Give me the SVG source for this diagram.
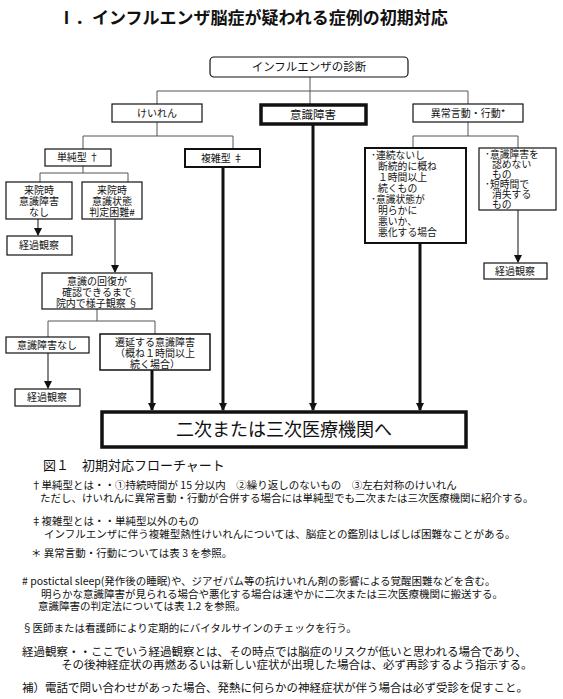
<svg xmlns="http://www.w3.org/2000/svg" width="563" height="699" viewBox="0 0 563 699">
<style>
text{font-family:"Noto Sans CJK JP","Noto Sans CJK SC",sans-serif;fill:#111}
.n{font-size:10px;text-anchor:middle}
.l{font-size:9.8px}
.box{fill:#fff;stroke:#111;stroke-width:1.2}
.b2{fill:#fff;stroke:#111;stroke-width:2}
.b3{fill:#fff;stroke:#111;stroke-width:3.5}
.c{stroke:#555;stroke-width:1;fill:none}
.a{stroke:#111;stroke-width:1;fill:none}
.t{stroke:#111;stroke-width:3;fill:none}
.f{font-size:10.5px}
.g{font-size:11.5px}
</style>
<defs>
<marker id="ah2" markerWidth="8" markerHeight="8" refX="7" refY="4" orient="auto" markerUnits="userSpaceOnUse" viewBox="0 0 8 8"><path d="M0,0 L8,4 L0,8 Z" fill="#111"/></marker>
</defs>
<rect width="563" height="699" fill="#fff"/>
<text x="58" y="24" style="font-size:17px;font-weight:bold">Ⅰ．インフルエンザ脳症が疑われる症例の初期対応</text>

<g id="connectors">
<path class="c" d="M310,77 V104 M157,91 H468 M157,91 V104 M468,91 V104"/>
<path class="c" d="M157,122 V136 M83,136 H233 M83,136 V149 M233,136 V149"/>
<path class="c" d="M83,166 V173 M40,173 H128 M40,173 V182 M128,173 V182"/>
<path class="a" d="M38,219 V235" marker-end="url(#ah2)"/>
<path class="a" d="M115,219 V272" marker-end="url(#ah2)"/>
<path class="c" d="M97,309 V321 M48,321 H155 M48,321 V337 M155,321 V334"/>
<path class="a" d="M48,353 V388" marker-end="url(#ah2)"/>
<path class="c" d="M468,122 V136 M413,136 H518 M413,136 V148 M518,136 V148"/>
<path class="a" d="M518,210 V262" marker-end="url(#ah2)"/>
<path class="t" d="M152,370 V410" marker-end="url(#ah2)"/>
<path class="t" d="M223,167 V410" marker-end="url(#ah2)"/>
<path class="t" d="M313,124 V410" marker-end="url(#ah2)"/>
<path class="t" d="M420,243 V410" marker-end="url(#ah2)"/>
</g>

<g id="diag"><rect class="box" x="210" y="57" width="198" height="20" rx="4"/><text class="n" x="309" y="71" style="font-size:11.5px">インフルエンザの診断</text></g>
<g id="keiren"><rect class="box" x="112" y="104" width="90" height="18"/><text class="n" x="157" y="117">けいれん</text></g>
<g id="ishiki"><rect class="b3" x="261" y="105" width="105" height="19"/><text class="n" x="313" y="119" style="font-size:11.5px">意識障害</text></g>
<g id="ijou"><rect class="box" x="413" y="104" width="110" height="18"/><text class="n" x="468" y="117">異常言動・行動*</text></g>
<g id="tanjun"><rect class="box" x="45" y="149" width="66" height="17"/><text class="n" x="78" y="161">単純型 †</text></g>
<g id="fukuzatsu"><rect class="b2" x="185" y="149" width="75" height="18"/><text class="n" x="222" y="162">複雑型 ‡</text></g>
<g id="nashi"><rect class="box" x="6" y="182" width="66" height="37"/><text class="n" x="39" y="194">来院時</text><text class="n" x="39" y="205">意識障害</text><text class="n" x="39" y="216">なし</text></g>
<g id="konnan"><rect class="box" x="82" y="182" width="60" height="37"/><text class="n" x="112" y="194">来院時</text><text class="n" x="112" y="205">意識状態</text><text class="n" x="112" y="216">判定困難#</text></g>
<g id="keika1"><rect class="box" x="7" y="236" width="65" height="19"/><text class="n" x="39" y="249">経過観察</text></g>
<g id="kaifuku"><rect class="box" x="42" y="273" width="110" height="36"/><text class="n" x="97" y="285">意識の回復が</text><text class="n" x="97" y="296">確認できるまで</text><text class="n" x="97" y="307">院内で様子観察 §</text></g>
<g id="nashi2"><rect class="box" x="6" y="337" width="83" height="16"/><text class="n" x="47" y="349">意識障害なし</text></g>
<g id="keika2"><rect class="box" x="15" y="389" width="65" height="17"/><text class="n" x="47" y="401">経過観察</text></g>
<g id="sen-en"><rect class="box" x="100" y="334" width="110" height="36" style="stroke-width:1.5"/><text class="n" x="155" y="346">遷延する意識障害</text><text class="n" x="155" y="357">（概ね１時間以上</text><text class="n" x="155" y="368">続く場合）</text></g>
<g id="renzoku"><rect class="b2" x="365" y="148" width="101" height="95"/>
<text class="l" x="371" y="159">･連続ないし</text><text class="l" x="378" y="170">断続的に概ね</text><text class="l" x="378" y="181">１時間以上</text><text class="l" x="378" y="192">続くもの</text><text class="l" x="371" y="203">･意識状態が</text><text class="l" x="378" y="214">明らかに</text><text class="l" x="378" y="225">悪いか、</text><text class="l" x="378" y="236">悪化する場合</text></g>
<g id="mitomenai"><rect class="box" x="479" y="148" width="77" height="62"/>
<text class="l" x="485" y="158">･意識障害を</text><text class="l" x="492" y="168">認めない</text><text class="l" x="492" y="178">もの</text><text class="l" x="485" y="188">･短時間で</text><text class="l" x="492" y="198">消失する</text><text class="l" x="492" y="208">もの</text></g>
<g id="keika3"><rect class="box" x="484" y="263" width="63" height="16"/><text class="n" x="515" y="275">経過観察</text></g>
<g id="iryou"><rect class="b3" x="102" y="412" width="364" height="35"/><text class="n" x="284" y="436" style="font-size:18px">二次または三次医療機関へ</text></g>

<text x="43" y="470" style="font-size:13px">図１　初期対応フローチャート</text>
<text class="f" x="31" y="489">†単純型とは・・①持続時間が 15 分以内　②繰り返しのないもの　③左右対称のけいれん</text>
<text class="f" x="40" y="502">ただし、けいれんに異常言動・行動が合併する場合には単純型でも二次または三次医療機関に紹介する。</text>
<text class="f" x="31" y="525">‡複雑型とは・・単純型以外のもの</text>
<text class="f" x="44" y="538">インフルエンザに伴う複雑型熱性けいれんについては、脳症との鑑別はしばしば困難なことがある。</text>
<text class="f" x="31" y="557">＊ 異常言動・行動については表 3 を参照。</text>
<text class="f" x="22" y="585"># postictal sleep(発作後の睡眠)や、ジアゼパム等の抗けいれん剤の影響による覚醒困難などを含む。</text>
<text class="f" x="41" y="598">明らかな意識障害が見られる場合や悪化する場合は速やかに二次または三次医療機関に搬送する。</text>
<text class="f" x="38" y="610">意識障害の判定法については表 1.2 を参照。</text>
<text class="f" x="22" y="632">§医師または看護師により定期的にバイタルサインのチェックを行う。</text>
<text class="g" x="22" y="656">経過観察・・ここでいう経過観察とは、その時点では脳症のリスクが低いと思われる場合であり、</text>
<text class="g" x="61" y="669">その後神経症状の再燃あるいは新しい症状が出現した場合は、必ず再診するよう指示する。</text>
<text class="g" x="22" y="692">補）電話で問い合わせがあった場合、発熱に何らかの神経症状が伴う場合は必ず受診を促すこと。</text>
</svg>
